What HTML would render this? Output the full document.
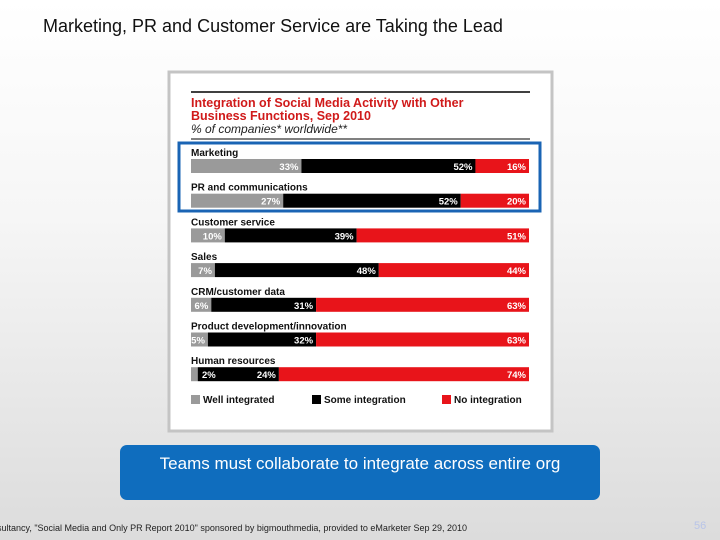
<!DOCTYPE html>
<html><head><meta charset="utf-8"><style>
body{margin:0;width:720px;height:540px;overflow:hidden;background:linear-gradient(#ffffff 0%,#f6f6f6 40%,#dcdcdc 100%);font-family:"Liberation Sans",sans-serif;position:relative}
.t{position:absolute;left:43px;top:16px;font-size:18px;color:#111}
</style></head><body>
<div class="t">Marketing, PR and Customer Service are Taking the Lead</div>
<svg width="720" height="540" style="position:absolute;left:0;top:0">
<rect x="169" y="72" width="383" height="359" fill="#fff" stroke="#c4c4c4" stroke-width="3"/>
<line x1="191" y1="92" x2="530" y2="92" stroke="#000" stroke-width="1.5"/>
<text x="191" y="107" font-size="12.5" font-weight="bold" fill="#d01a1a">Integration of Social Media Activity with Other</text>
<text x="191" y="120" font-size="12.5" font-weight="bold" fill="#d01a1a">Business Functions, Sep 2010</text>
<text x="191" y="133" font-size="12" font-style="italic" fill="#222">% of companies* worldwide**</text>
<line x1="191" y1="139" x2="530" y2="139" stroke="#000" stroke-width="1"/>
<g id="bars"></g>
<rect x="179" y="143" width="361" height="68" fill="none" stroke="#1a64b4" stroke-width="3"/>
<g font-size="10" font-weight="bold" fill="#111">
<rect x="191" y="395" width="9" height="9" fill="#9a9a9a"/><text x="203" y="403">Well integrated</text>
<rect x="312" y="395" width="9" height="9" fill="#000"/><text x="324" y="403">Some integration</text>
<rect x="442" y="395" width="9" height="9" fill="#e8141a"/><text x="454" y="403">No integration</text>
</g>
</svg>
<div style="position:absolute;left:120px;top:445px;width:480px;height:55px;background:#0f6dbe;border-radius:7px;color:#fff;font-size:17px;text-align:center;line-height:38px">Teams must collaborate to integrate across entire org</div>
<div style="position:absolute;left:-3px;top:523px;font-size:9px;color:#222;white-space:nowrap">sultancy, "Social Media and Only PR Report 2010" sponsored by bigmouthmedia, provided to eMarketer Sep 29, 2010</div>
<div style="position:absolute;left:694px;top:520px;font-size:11px;color:#b8c4e8">56</div>
<script>
const categories=["Marketing","PR and communications","Customer service","Sales","CRM/customer data","Product development/innovation","Human resources"];
const wellIntegrated=[33,27,10,7,6,5,2];
const someIntegration=[52,52,39,48,31,32,24];
const noIntegration=[16,20,51,44,63,63,74];
const NS="http://www.w3.org/2000/svg";
const g=document.getElementById('bars');
const x0=191,W=338;
function xs(v,t){return x0+v/t*W;}
function yRow(i){return 159+i*34.7;}
function mk(tag,at){const e=document.createElementNS(NS,tag);for(const k in at)e.setAttribute(k,at[k]);g.appendChild(e);return e;}
categories.forEach((c,i)=>{
 const y=yRow(i),t=wellIntegrated[i]+someIntegration[i]+noIntegration[i];
 const lab=mk('text',{x:191,y:y-3,'font-size':10,'font-weight':'bold',fill:'#111'});lab.textContent=c;
 
 
 const segs=[[wellIntegrated[i],'#9a9a9a','bar-well'],[someIntegration[i],'#000','bar-some'],[noIntegration[i],'#e8141a','bar-none']];
 let acc=0;const labs=[];
 segs.forEach(([v,col,nm])=>{
  const a=xs(acc,t),b=xs(acc+v,t);
  const r=mk('rect',{x:a,y:y,width:b-a,height:14,fill:col});
  
  
  labs.push([v,a,b]);
  acc+=v;
 });
 labs.forEach(([v,a,b])=>{
  const small=(b-a)<15;
  const tx=mk('text',small?{x:a+11,y:y+11,'font-size':9.5,'font-weight':'bold',fill:'#fff','text-anchor':'start'}:{x:b-3,y:y+11,'font-size':9.5,'font-weight':'bold',fill:'#fff','text-anchor':'end'});
  tx.textContent=v+'%';
  
  
 });
});
</script>
</body></html>
